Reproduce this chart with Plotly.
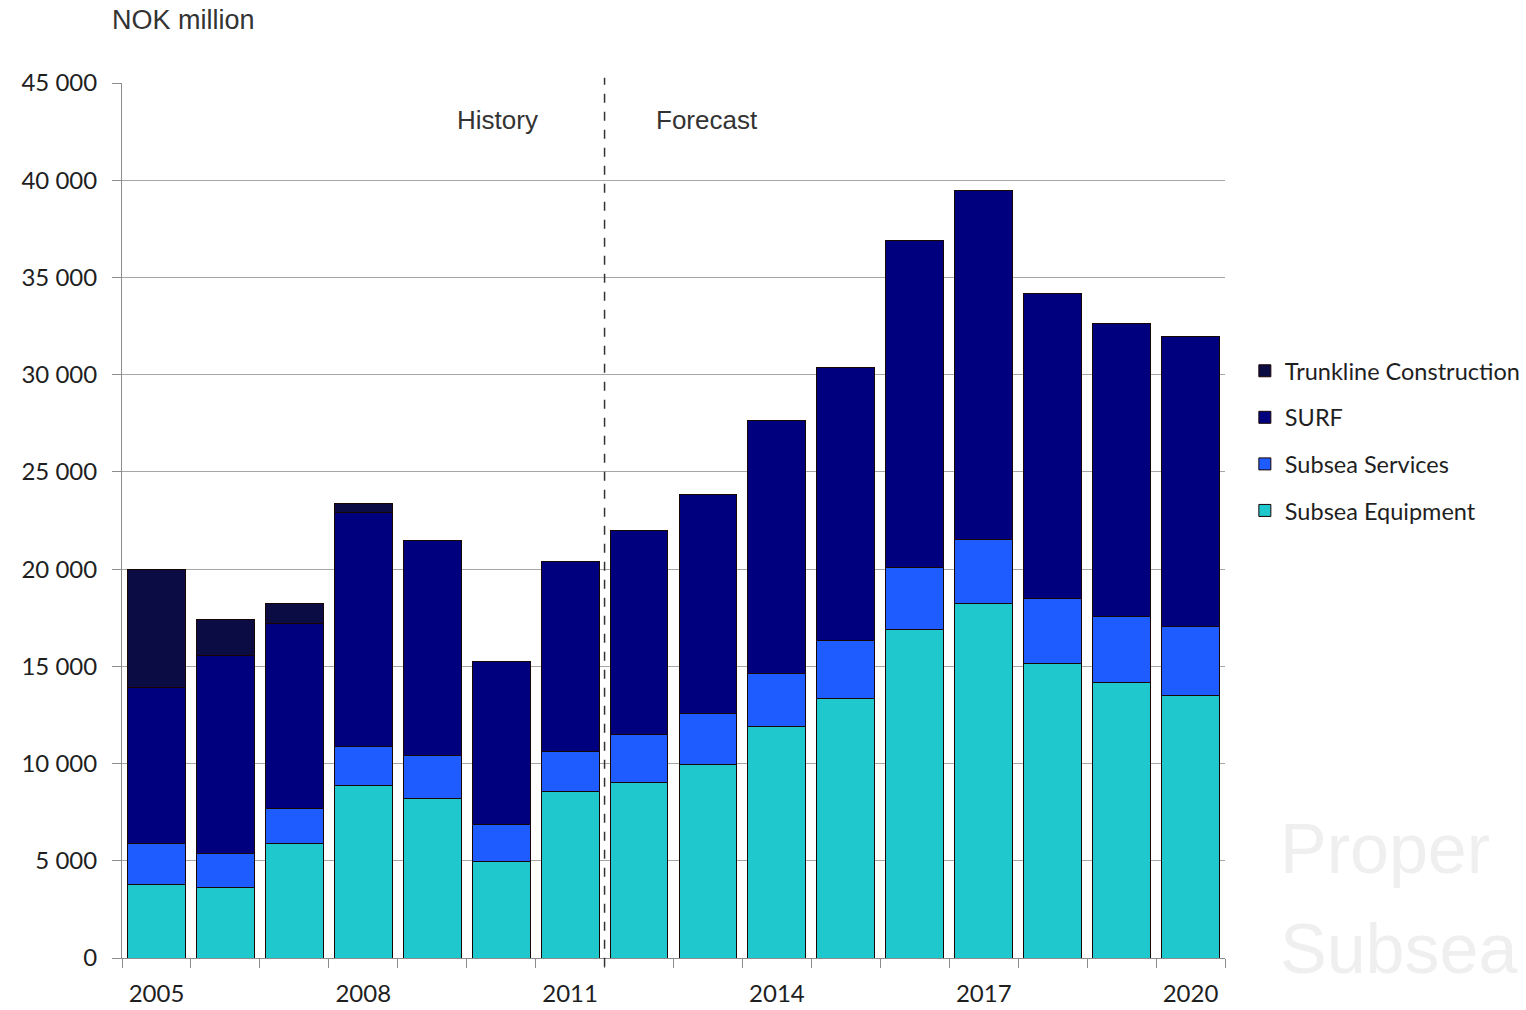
import plotly.graph_objects as go

years = list(range(2005, 2021))
subsea_equipment = [3800, 3650, 5900, 8850, 8200, 4950, 8550, 9050, 9950, 11900, 13350, 16900, 18250, 15150, 14150, 13500]
subsea_services = [2100, 1700, 1800, 2050, 2200, 1900, 2050, 2450, 2600, 2750, 3000, 3200, 3250, 3350, 3400, 3550]
surf = [8000, 10200, 9500, 12000, 11050, 8380, 9800, 10500, 11300, 13000, 14000, 16800, 17950, 15650, 15100, 14900]
trunkline = [6100, 1850, 1050, 500, 0, 0, 0, 0, 0, 0, 0, 0, 0, 0, 0, 0]
x_tick_years = [2005, 2008, 2011, 2014, 2017, 2020]
y_ticks = [0, 5000, 10000, 15000, 20000, 25000, 30000, 35000, 40000, 45000]

series = [
    ("Subsea Equipment", subsea_equipment, "#1fc8cc", 4),
    ("Subsea Services", subsea_services, "#1f5cff", 3),
    ("SURF", surf, "#00007e", 2),
    ("Trunkline Construction", trunkline, "#0c0c44", 1),
]

fig = go.Figure()
for name, vals, col, rank in series:
    fig.add_trace(go.Bar(
        x=years, y=vals, name=name, legendgroup=name, legendrank=rank,
        marker=dict(color=col, line=dict(color="#1a0505", width=1)),
        width=0.84,
    ))

fig.update_layout(
    width=1526, height=1010,
    barmode="stack",
    separators=". ",
    plot_bgcolor="white", paper_bgcolor="white",
    margin=dict(l=122, r=301, t=83, b=52, autoexpand=False),
    font=dict(family="Lato, sans-serif", color="#1f1f1f"),
    showlegend=True,
    legend=dict(
        x=1.018, y=0.696, xanchor="left", yanchor="top",
        traceorder="grouped", tracegroupgap=13,
        font=dict(family="Lato, sans-serif", size=23.5, color="#1f1f1f"),
        itemwidth=30,
    ),
    xaxis=dict(
        range=[2004.5, 2020.5], tickvals=x_tick_years,
        ticks="", ticklen=0, showgrid=False, automargin=False,
        showline=True, linecolor="#8c8c8c", linewidth=1,
        tickfont=dict(family="Lato, sans-serif", size=24, color="#1f1f1f"),
        ticklabelstandoff=14,
        minor=dict(tick0=2004.5, dtick=1, ticks="outside", ticklen=9, tickcolor="#8c8c8c", showgrid=False),
    ),
    yaxis=dict(
        range=[0, 45000], tickvals=y_ticks, tickformat=",d",
        showgrid=True, gridcolor="#a6a6a6", gridwidth=1, automargin=False,
        showline=True, linecolor="#8c8c8c", linewidth=1,
        ticks="outside", ticklen=9, tickcolor="#8c8c8c",
        ticklabelstandoff=10,
        tickfont=dict(family="Lato, sans-serif", size=24, color="#1f1f1f"),
        zeroline=False,
    ),
    shapes=[dict(
        type="line", xref="x", yref="paper", x0=2011.5, x1=2011.5, y0=-0.01, y1=1.006,
        line=dict(color="#333333", width=1.5, dash="dash"),
    )],
    annotations=[
        dict(text="NOK million", xref="paper", yref="paper", x=-0.011, y=1.072,
             xanchor="left", yanchor="middle", showarrow=False,
             font=dict(family="Liberation Sans, sans-serif", size=27, color="#333333")),
        dict(text="History", xref="x", yref="paper", x=2009.95, y=0.958,
             xanchor="center", yanchor="middle", showarrow=False,
             font=dict(family="Liberation Sans, sans-serif", size=26, color="#333333")),
        dict(text="Forecast", xref="x", yref="paper", x=2012.99, y=0.958,
             xanchor="center", yanchor="middle", showarrow=False,
             font=dict(family="Liberation Sans, sans-serif", size=26, color="#333333")),
        dict(text="Proper", xref="paper", yref="paper", x=1.048, y=0.125,
             xanchor="left", yanchor="middle", showarrow=False,
             font=dict(family="Liberation Sans, sans-serif", size=70, color="#efefef")),
        dict(text="Subsea", xref="paper", yref="paper", x=1.048, y=0.01,
             xanchor="left", yanchor="middle", showarrow=False,
             font=dict(family="Liberation Sans, sans-serif", size=70, color="#efefef")),
    ],
)

fig.write_html("out.html", config={"displayModeBar": False},
               post_script="document.body.style.margin='0';")
